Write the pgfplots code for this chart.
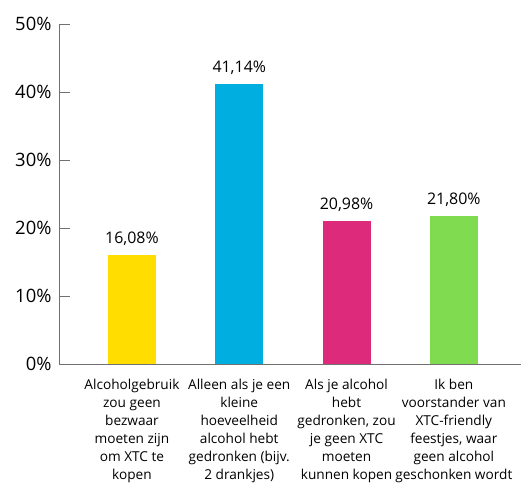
\documentclass[border=0pt]{standalone}
\usepackage{fontspec}
\setmainfont{Open Sans}
\usepackage{pgfplots}
\pgfplotsset{compat=1.18}

\definecolor{barYellow}{HTML}{FFDD00}
\definecolor{barBlue}{HTML}{00AEE0}
\definecolor{barMagenta}{HTML}{DE2A7B}
\definecolor{barGreen}{HTML}{80DB50}
\definecolor{axisGray}{HTML}{707070}

\begin{document}
\begin{tikzpicture}
\begin{axis}[
  scale only axis,
  width=462bp, height=340bp,
  xmin=-0.68, xmax=3.626,
  ymin=0, ymax=50,
  axis x line*=bottom,
  axis y line*=left,
  axis line style={axisGray, line width=0.9bp},
  ytick={0,10,20,30,40,50},
  yticklabel={\pgfmathprintnumber{\tick}\%},
  yticklabel style={font=\fontsize{18.5}{21}\selectfont, text=black, xshift=-4bp},
  y tick style={axisGray, line width=0.9bp},
  ytick pos=left,
  tick align=inside,
  major tick length=11bp,
  xtick={0,1,2,3},
  x tick style={draw=none},
  xticklabels={
    {Alcoholgebruik\\zou geen\\bezwaar\\moeten zijn\\om XTC te\\kopen},
    {Alleen als je een\\kleine\\hoeveelheid\\alcohol hebt\\gedronken (bijv.\\2 drankjes)},
    {Als je alcohol\\hebt\\gedronken, zou\\je geen XTC\\moeten\\kunnen kopen},
    {Ik ben\\voorstander van\\XTC-friendly\\feestjes, waar\\geen alcohol\\geschonken wordt}
  },
  xticklabel style={font=\fontsize{13.7}{18}\selectfont, align=center, text=black, yshift=-1bp},
  /pgf/number format/assume math mode=true,
  ybar, bar width=48bp, bar shift=0pt,
  nodes near coords={\pgfmathprintnumber[fixed, fixed zerofill, precision=2, use comma]{\pgfplotspointmeta}\%},
  nodes near coords style={font=\fontsize{16}{19}\selectfont, text=black, yshift=6bp},
  clip=false,
]
\addplot[draw=none, fill=barYellow] coordinates {(0,16.08)};
\addplot[draw=none, fill=barBlue] coordinates {(1,41.14)};
\addplot[draw=none, fill=barMagenta] coordinates {(2,20.98)};
\addplot[draw=none, fill=barGreen] coordinates {(3,21.80)};
\coordinate (bl) at (rel axis cs:0,0);
\coordinate (tr) at (rel axis cs:1,1);
\end{axis}
\pgfresetboundingbox
\path[use as bounding box] ([shift={(-59bp,-121bp)}]bl) rectangle ([shift={(0bp,24bp)}]tr);
\end{tikzpicture}
\end{document}
